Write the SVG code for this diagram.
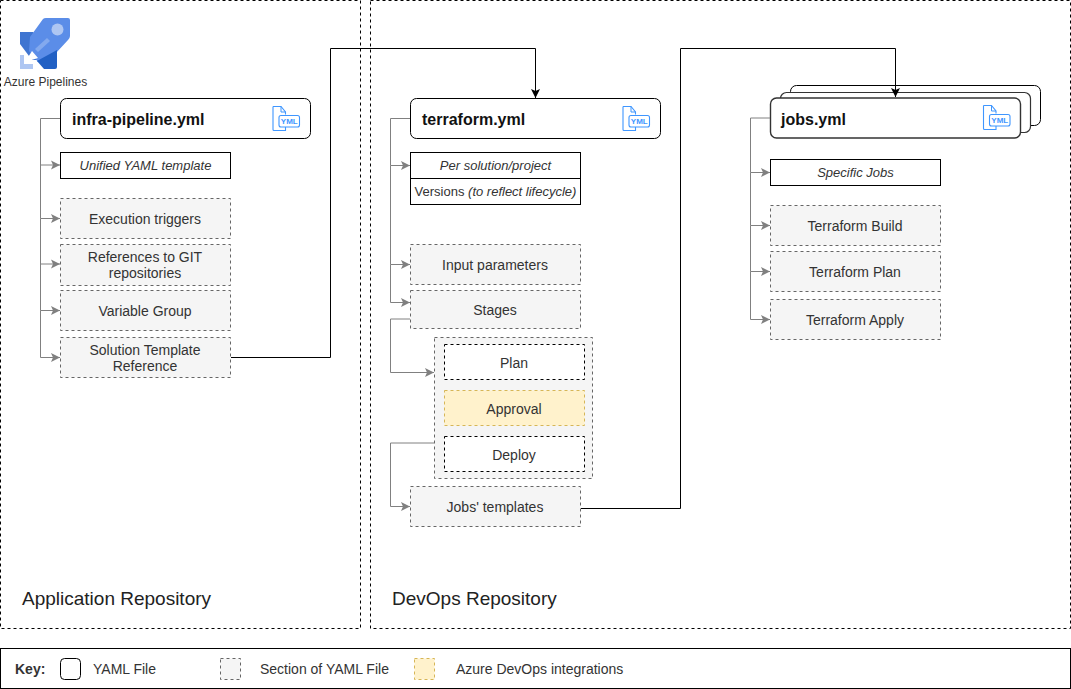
<svg xmlns="http://www.w3.org/2000/svg" width="1071" height="689" viewBox="0 0 1071 689">
<defs>
<marker id="ag" markerUnits="userSpaceOnUse" markerWidth="10" markerHeight="10" refX="9" refY="5" orient="auto"><path d="M0 0.500 L9 5 L0 9.500 L2 5 Z" fill="#808080"/></marker>
<marker id="ak" markerUnits="userSpaceOnUse" markerWidth="10" markerHeight="10" refX="9" refY="5" orient="auto"><path d="M0 0.500 L9 5 L0 9.500 L2 5 Z" fill="#000"/></marker>
<g id="yml">
<path d="M0.500 0.500 H8.500 L13 6 V8.500 M13 21 V24.500 H1.500 Q0.500 24.500 0.500 23.500 V0.500" fill="none" stroke="#3f96ff" stroke-width="1.100"/>
<path d="M8.500 0.500 V6 H13" fill="none" stroke="#3f96ff" stroke-width="1"/>
<rect x="6.500" y="9.500" width="20.500" height="11.500" rx="2" fill="#fff" stroke="#3f96ff" stroke-width="1.100"/>
<text class="ym" x="16.800" y="18.300">YML</text>
</g>
</defs>
<style>
text{font-family:"Liberation Sans",Arial,sans-serif;fill:#333;font-size:14px}
text.ym{font-size:8px;fill:#3f96ff;text-anchor:middle;font-weight:bold}
.c{text-anchor:middle}
.i{font-style:italic;font-size:13px}
.t{font-weight:bold;font-size:16px;fill:#111}
text.r{font-size:19px;fill:#222}
.f{fill:#fff;stroke:#000;stroke-width:1}
.s{fill:#f5f5f5;stroke:#666;stroke-width:1;stroke-dasharray:3 3}
.w{fill:#fff;stroke:#000;stroke-width:1;stroke-dasharray:3 3}
.y{fill:#fff2cc;stroke:#d6b656;stroke-width:1;stroke-dasharray:3 3}
.g{fill:none;stroke:#808080;stroke-width:1;marker-end:url(#ag)}
.k{fill:none;stroke:#000;stroke-width:1;marker-end:url(#ak)}
.b{fill:none;stroke:#000;stroke-width:1;stroke-dasharray:3 3}
</style>
<rect width="1071" height="689" fill="#fff"/>

<g id="app-repo"><rect class="b" x="0.500" y="0.500" width="360" height="628"/><text class="r" x="22" y="605">Application Repository</text></g>
<g id="devops-repo"><rect class="b" x="370.500" y="0.500" width="700" height="628"/><text class="r" x="392" y="605">DevOps Repository</text></g>

<g id="azure-pipelines">
<path d="M20 32 H33 L45 45 V60 H32 L20 44 Z" fill="#3f75d1"/>
<path d="M43 19 Q44 18 46 18 H68 Q70 18 70 20 V36 Q70 38 68 40 L56 53 L38 62 L29 51 L30 37 Z" fill="#5b8de8"/>
<path d="M57 50 V67 Q57 69 55 69 H44 L37 61 Z" fill="#2160c4"/>
<circle cx="57.500" cy="29.500" r="6" fill="#aec6f2"/>
<path d="M47 38 L50 41 L38 52 L35 49 Z" fill="#83a9ee"/>
<path d="M20 55 H24 V64 H33 V69 H20 Z" fill="#aec6f2"/>
<path d="M25 62 L32 51 L38 58 Z" fill="#fff"/>
<text x="45.500" y="86" class="c" style="font-size:12px">Azure Pipelines</text>
</g>

<g id="infra-pipeline"><rect class="f" x="60.500" y="98.500" width="250" height="40" rx="6"/><text class="t" x="72" y="124.500">infra-pipeline.yml</text><use href="#yml" x="272.500" y="106"/></g>
<g id="unified"><rect class="f" x="60.500" y="152.500" width="170" height="26"/><text class="c i" x="145.500" y="170">Unified YAML template</text></g>
<g id="triggers"><rect class="s" x="60.500" y="198.500" width="170" height="40"/><text class="c" x="145" y="224">Execution triggers</text></g>
<g id="references"><rect class="s" x="60.500" y="244.500" width="170" height="41"/><text class="c" x="145" y="262">References to GIT</text><text class="c" x="145" y="278">repositories</text></g>
<g id="variable-group"><rect class="s" x="60.500" y="290.500" width="170" height="40"/><text class="c" x="145" y="316">Variable Group</text></g>
<g id="solution-template"><rect class="s" x="60.500" y="337.500" width="170" height="40"/><text class="c" x="145" y="355">Solution Template</text><text class="c" x="145" y="371">Reference</text></g>

<g id="terraform"><rect class="f" x="410.500" y="98.500" width="250" height="40" rx="6"/><text class="t" x="422" y="124.500">terraform.yml</text><use href="#yml" x="622.500" y="106"/></g>
<g id="per-solution"><rect class="f" x="410.500" y="152.500" width="170" height="26"/><text class="c i" x="495.500" y="170">Per solution/project</text></g>
<g id="versions"><rect class="f" x="410.500" y="178.500" width="170" height="26"/><text class="c" x="495.500" y="196" style="font-size:13px">Versions <tspan font-style="italic">(to reflect lifecycle)</tspan></text></g>
<g id="input-params"><rect class="s" x="410.500" y="244.500" width="170" height="40"/><text class="c" x="495" y="270">Input parameters</text></g>
<g id="stages"><rect class="s" x="410.500" y="290.500" width="170" height="38"/><text class="c" x="495" y="315">Stages</text></g>
<g id="stages-box"><rect class="s" x="434.500" y="337.500" width="158" height="141"/></g>
<g id="plan"><rect class="w" x="444.500" y="344.500" width="140" height="35"/><text class="c" x="514" y="368">Plan</text></g>
<g id="approval"><rect class="y" x="444.500" y="390.500" width="140" height="35"/><text class="c" x="514" y="414">Approval</text></g>
<g id="deploy"><rect class="w" x="444.500" y="436.500" width="140" height="35"/><text class="c" x="514" y="460">Deploy</text></g>
<g id="jobs-templates"><rect class="s" x="410.500" y="486.500" width="170" height="40"/><text class="c" x="495" y="512">Jobs' templates</text></g>

<g id="jobs">
<rect class="f" x="790.500" y="85.500" width="250" height="40" rx="6"/>
<rect x="780.500" y="92.500" width="250" height="40" rx="6" fill="#fff" stroke="#333" stroke-width="1.200"/>
<rect x="770.500" y="98" width="250" height="40" rx="6" fill="#fff" stroke="#333" stroke-width="1.400"/>
<text class="t" x="781" y="124.500">jobs.yml</text><use href="#yml" x="983" y="105"/>
</g>
<g id="specific-jobs"><rect class="f" x="770.500" y="159.500" width="170" height="26"/><text class="c i" x="855.500" y="177">Specific Jobs</text></g>
<g id="tf-build"><rect class="s" x="770.500" y="205.500" width="170" height="40"/><text class="c" x="855" y="231">Terraform Build</text></g>
<g id="tf-plan"><rect class="s" x="770.500" y="251.500" width="170" height="40"/><text class="c" x="855" y="277">Terraform Plan</text></g>
<g id="tf-apply"><rect class="s" x="770.500" y="299.500" width="170" height="40"/><text class="c" x="855" y="325">Terraform Apply</text></g>

<g id="connectors">
<path class="g" d="M60 118.500 H40.500 V165 H60"/>
<path class="g" d="M40.500 165 V218.500 H60"/>
<path class="g" d="M40.500 218.500 V264 H60"/>
<path class="g" d="M40.500 264 V310.500 H60"/>
<path class="g" d="M40.500 310.500 V357.500 H60"/>
<path class="k" d="M231 357.500 H330.500 V48.500 H535.500 V98"/>
<path class="g" d="M410 118.500 H390.500 V165.500 H410"/>
<path class="g" d="M390.500 165.500 V264.500 H410"/>
<path class="g" d="M390.500 264.500 V302.500 H410"/>
<path class="g" d="M410 319 H390.500 V372.500 H434"/>
<path class="g" d="M434 443 H390.500 V506.500 H410"/>
<path class="k" d="M581 508.500 H680.500 V48.500 H895.500 V97"/>
<path class="g" d="M770 118 H750.500 V172.500 H770"/>
<path class="g" d="M750.500 172.500 V225.500 H770"/>
<path class="g" d="M750.500 225.500 V271.500 H770"/>
<path class="g" d="M750.500 271.500 V319.500 H770"/>
</g>

<g id="key">
<rect class="f" x="0.500" y="648.500" width="1070" height="40"/>
<text x="15" y="674" style="font-weight:bold;font-size:14px">Key:</text>
<rect class="f" x="60.500" y="658.500" width="20" height="21" rx="4"/>
<text x="93" y="674">YAML File</text>
<rect class="s" x="220.500" y="658.500" width="20" height="21"/>
<text x="260" y="674">Section of YAML File</text>
<rect class="y" x="414.500" y="658.500" width="20" height="21"/>
<text x="456" y="674">Azure DevOps integrations</text>
</g>
</svg>
